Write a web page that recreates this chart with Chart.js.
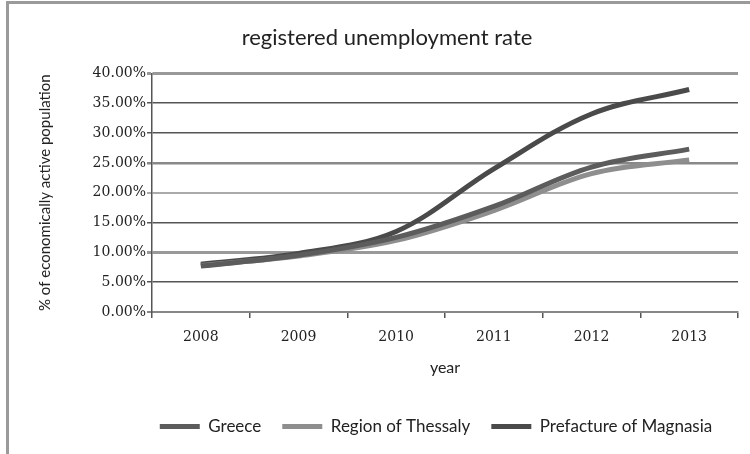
<!DOCTYPE html>
<html>
<head>
<meta charset="utf-8">
<script src="https://cdn.jsdelivr.net/npm/chart.js@4.4.1/dist/chart.umd.min.js"></script>
<style>
  html, body { margin: 0; padding: 0; background: #fff; }
  #frame {
    position: absolute; left: 6px; top: 1px; width: 760px; height: 470px;
    border-left: 3px solid #9a9a9a; border-top: 3px solid #9a9a9a;
  }
  #wrap { position: absolute; left: 0; top: 0; width: 750px; height: 454px; }
</style>
</head>
<body>
<div id="frame"></div>
<div id="wrap"><canvas id="c" width="750" height="454"></canvas></div>
<script>
// Registered unemployment rate, % of economically active population
const years = ['2008', '2009', '2010', '2011', '2012', '2013'];
const greece   = [7.7, 9.5, 12.5, 17.7, 24.3, 27.3];
const thessaly = [7.8, 9.4, 12.0, 17.0, 23.2, 25.5];
const magnesia = [8.0, 9.8, 13.5, 24.0, 33.2, 37.3];
const yTicks = [0, 5, 10, 15, 20, 25, 30, 35, 40];

// horizontal rules, bottom to top
const gridColors = ['#888', '#555', '#999', '#555', '#aaa', '#888', '#555', '#555', '#999'];
const gridWidths = [2, 1.5, 3, 1.5, 2, 2.5, 1.5, 1.5, 3];

const tickFont = { family: 'DejaVu Serif', size: 14 };
const sansFont = 'Lato';

function series(label, data, color) {
  return {
    label, data,
    borderColor: color, backgroundColor: color,
    borderWidth: 5, pointRadius: 0, tension: 0.35,
    borderCapStyle: 'butt', fill: false
  };
}

// the legend sits a little right of the chart's centre line
const legendShift = {
  id: 'legendShift',
  afterLayout(chart) {
    const lg = chart.legend;
    if (lg) { lg.left += 49; lg.right += 49; }
  }
};

new Chart(document.getElementById('c'), {
  type: 'line',
  data: {
    labels: years,
    datasets: [
      series('Greece', greece, '#5c5c5c'),
      series('Region of Thessaly', thessaly, '#8e8e8e'),
      series('Prefacture of Magnasia', magnesia, '#4a4a4a')
    ]
  },
  plugins: [legendShift],
  options: {
    responsive: false,
    animation: false,
    layout: { padding: { left: 36, right: 12, top: 0, bottom: 9 } },
    plugins: {
      title: {
        display: true,
        text: 'registered unemployment rate',
        color: '#222',
        font: { family: sansFont, size: 22, weight: 'normal' },
        padding: { top: 25, bottom: 22 }
      },
      legend: {
        position: 'bottom',
        labels: {
          usePointStyle: true, pointStyle: 'line', pointStyleWidth: 40,
          color: '#222', padding: 21,
          font: { family: sansFont, size: 17 }
        }
      },
      tooltip: { enabled: false }
    },
    scales: {
      x: {
        offset: true,
        grid: { offset: true, drawOnChartArea: false, drawTicks: true, tickLength: 6, color: '#555', lineWidth: 1.5 },
        border: { display: true, color: '#888', width: 2 },
        ticks: { color: '#222', font: tickFont, padding: 11, maxRotation: 0 },
        title: { display: true, text: 'year', color: '#222', font: { family: sansFont, size: 16 }, padding: { top: 1, bottom: 20 } }
      },
      y: {
        min: 0, max: 40,
        afterBuildTicks: (s) => { s.ticks = yTicks.map(v => ({ value: v })); },
        afterFit: (s) => { s.width = 116; },
        grid: {
          drawTicks: true, tickLength: 5,
          color: (ctx) => gridColors[ctx.index] || '#666',
          lineWidth: (ctx) => gridWidths[ctx.index] || 1.5
        },
        border: { display: true, color: '#555', width: 1.5 },
        ticks: {
          color: '#222', font: tickFont, padding: 1,
          callback: (v) => v.toFixed(2) + '%'
        },
        title: {
          display: true, text: '% of economically active population', color: '#222',
          font: { family: sansFont, size: 15 }, padding: { top: 0, bottom: 8 }
        }
      }
    }
  }
});
</script>
</body>
</html>
